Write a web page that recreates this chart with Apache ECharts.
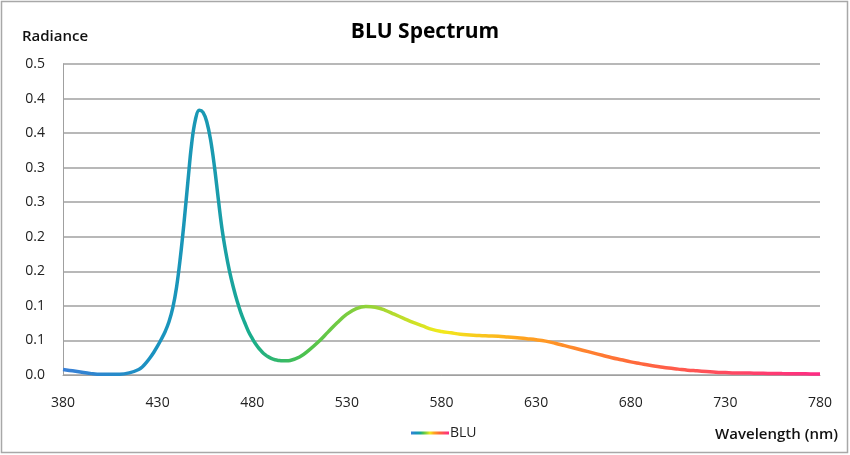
<!DOCTYPE html>
<html>
<head>
<meta charset="utf-8">
<script src="https://cdn.jsdelivr.net/npm/echarts@6/dist/echarts.min.js"></script>
<style>
  body { margin: 0; background: #fff; }
  #chart { width: 850px; height: 455px; }
</style>
</head>
<body>
<div id="chart"></div>
<script>
// wavelengths (nm) and radiance
// 5 nm steps, 2 nm steps round the blue peak
const wavelengths = [
    380, 385, 390, 395, 400, 405, 410, 415,
    420, 422, 424, 426, 428, 430, 432, 434, 436, 438, 440, 442, 444, 446, 448, 450,
    452, 454, 456, 458, 460, 462, 464, 466, 468, 470, 472, 474, 476, 478, 480,
    482, 484, 486, 488, 490, 492, 494, 496, 498,
    500, 505, 510, 515, 520, 525, 530, 535, 540, 545, 550, 555, 560, 565, 570, 575,
    580, 585, 590, 595, 600, 605, 610, 615, 620, 625, 630, 635, 640, 645, 650, 655,
    660, 665, 670, 675, 680, 685, 690, 695, 700, 705, 710, 715, 720, 725, 730, 735,
    740, 745, 750, 755, 760, 765, 770, 775, 780
];
const radiance = [
    0.008, 0.006, 0.004, 0.002, 0.001, 0.001, 0.001, 0.003,
    0.008, 0.012, 0.018, 0.025, 0.033, 0.042, 0.052, 0.063, 0.077, 0.097, 0.127, 0.17, 0.222, 0.28, 0.335, 0.37,
    0.383, 0.38, 0.366, 0.34, 0.302, 0.256, 0.212, 0.178, 0.15, 0.127, 0.107, 0.09, 0.076, 0.063, 0.053,
    0.044, 0.037, 0.031, 0.027, 0.024, 0.022, 0.021, 0.0205, 0.0205,
    0.021, 0.026, 0.036, 0.048, 0.062, 0.076, 0.088, 0.096, 0.099, 0.098, 0.094, 0.088, 0.082, 0.076, 0.071, 0.066,
    0.063, 0.061, 0.059, 0.058, 0.057, 0.0565, 0.056, 0.055, 0.054, 0.0525, 0.051, 0.049, 0.046, 0.0425, 0.039, 0.0355,
    0.032, 0.0285, 0.025, 0.022, 0.019, 0.0165, 0.014, 0.012, 0.01, 0.0085, 0.007, 0.006, 0.005, 0.004, 0.0035, 0.003,
    0.003, 0.0027, 0.0025, 0.0022, 0.002, 0.0019, 0.0018, 0.0016, 0.0015
];
const seriesName = 'BLU';

const chart = echarts.init(document.getElementById('chart'));

const spectrumColor = new echarts.graphic.LinearGradient(0, 0, 1, 0, [
    { offset: 0, color: '#3a7fd8' },
    { offset: 0.12, color: '#1a92c0' },
    { offset: 0.2, color: '#1a9ab0' },
    { offset: 0.25, color: '#19ad8c' },
    { offset: 0.32, color: '#4cc24e' },
    { offset: 0.4, color: '#8fd23a' },
    { offset: 0.5, color: '#f2ea1c' },
    { offset: 0.6, color: '#ffa61e' },
    { offset: 0.75, color: '#ff6a3a' },
    { offset: 1, color: '#ff2a86' }
]);

chart.setOption({
    animation: false,
    title: {
        text: 'BLU Spectrum',
        left: 'center',
        top: 22,
        padding: 0,
        textStyle: { fontFamily: 'Open Sans', fontSize: 21, fontWeight: 'bold', color: '#000' }
    },
    legend: {
        left: 406,
        top: 421,
        itemWidth: 38,
        itemHeight: 14,
        itemGap: 4,
        textStyle: { fontFamily: 'Open Sans', fontSize: 14, color: '#222', padding: [0, 0, 0, -4] },
        data: [{ name: seriesName, icon: 'path://M0,6 L38,6 L38,9 L0,9 Z' }]
    },
    grid: { left: 63, right: 30, top: 64, bottom: 80 },
    xAxis: {
        type: 'value',
        min: 380,
        max: 780,
        interval: 50,
        axisLine: { show: true, lineStyle: { color: '#a0a0a0', width: 1 } },
        axisTick: { show: false },
        splitLine: { show: false },
        axisLabel: { margin: 21, fontFamily: 'Open Sans', fontSize: 14, color: '#222' }
    },
    yAxis: {
        type: 'value',
        min: 0,
        max: 0.45,
        interval: 0.05,
        axisLine: { show: true, lineStyle: { color: '#a0a0a0', width: 1 } },
        axisTick: { show: false },
        splitLine: { lineStyle: { color: '#a0a0a0', width: 1.5 } },
        axisLabel: {
            margin: 18,
            fontFamily: 'Open Sans',
            fontSize: 14,
            color: '#222',
            formatter: v => (Math.round(v * 10 + 1e-9) / 10).toFixed(1)
        }
    },
    graphic: [
        {
            type: 'rect',
            shape: { x: 1.5, y: 1.5, width: 846, height: 451 },
            style: { fill: 'none', stroke: '#a8a8a8', lineWidth: 1.5 },
            silent: true
        },
        {
            type: 'text',
            left: 22,
            top: 29,
            style: { text: 'Radiance', fontFamily: 'Open Sans', fontSize: 15, fontWeight: 600, fill: '#111' }
        },
        {
            type: 'text',
            right: 12,
            top: 427,
            style: { text: 'Wavelength (nm)', fontFamily: 'Open Sans', fontSize: 15, fontWeight: 600, fill: '#111' }
        }
    ],
    series: [{
        name: seriesName,
        type: 'line',
        smooth: 0.4,
        showSymbol: false,
        data: wavelengths.map((w, i) => [w, radiance[i]]),
        lineStyle: { width: 3.5, color: spectrumColor },
        itemStyle: { color: spectrumColor }
    }]
});
</script>
</body>
</html>
